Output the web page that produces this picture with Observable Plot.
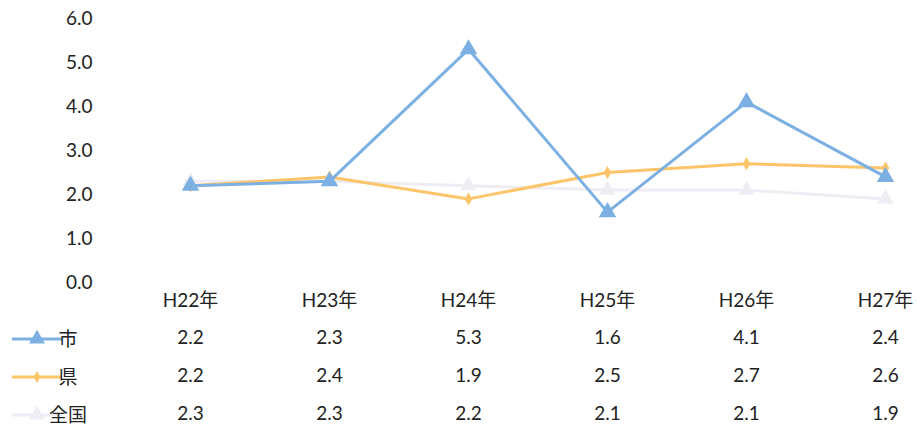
<!DOCTYPE html>
<html>
<head>
<meta charset="utf-8">
<script src="https://cdn.jsdelivr.net/npm/d3@7"></script>
<script src="https://cdn.jsdelivr.net/npm/@observablehq/plot@0.6"></script>
<style>
  html, body { margin: 0; padding: 0; background: #fff; }
  #chart { width: 917px; height: 427px; }
</style>
</head>
<body>
<div id="chart"></div>
<script>
const years = ["H22年", "H23年", "H24年", "H25年", "H26年", "H27年"];
const city = [2.2, 2.3, 5.3, 1.6, 4.1, 2.4];
const pref = [2.2, 2.4, 1.9, 2.5, 2.7, 2.6];
const nation = [2.3, 2.3, 2.2, 2.1, 2.1, 1.9];
const seriesNames = ["市", "県", "全国"];
const yTicks = [0, 1, 2, 3, 4, 5, 6];

const colors = {"市": "#7cb0e2", "県": "#fdc56a", "全国": "#f0ecf3"};
const seriesValues = {"市": city, "県": pref, "全国": nation};

const rows = years.map((y, i) => ({year: y, "市": city[i], "県": pref[i], "全国": nation[i]}));
const long = seriesNames.flatMap(s => years.map((y, i) => ({series: s, year: y, value: seriesValues[s][i]})));
const fmt = d3.format(".1f");
const FONT = "Lato, 'Noto Sans CJK JP', sans-serif";
const rowDy = {"市": 57, "県": 95, "全国": 133};
const TEXT = "#222";

const plot = Plot.plot({
  width: 917,
  height: 427,
  marginTop: 18,
  marginBottom: 145,
  marginLeft: 100,
  marginRight: 30,
  style: {fontFamily: FONT, fontSize: "19px", color: TEXT, background: "#fff"},
  x: {type: "point", domain: years, range: [188, 886], padding: 0, axis: null},
  y: {domain: [0, 6], range: [282, 18]},
  marks: [
    Plot.axisY({ticks: yTicks, tickSize: 0, tickPadding: 8, tickFormat: fmt, label: null, fontSize: 19, fill: TEXT}),
    // 全国
    Plot.line(long.filter(d => d.series === "全国"), {x: "year", y: "value", stroke: colors["全国"], strokeWidth: 3}),
    Plot.dot(long.filter(d => d.series === "全国"), {x: "year", y: "value", symbol: "triangle", r: 6, fill: colors["全国"]}),
    // 県
    Plot.line(long.filter(d => d.series === "県"), {x: "year", y: "value", stroke: colors["県"], strokeWidth: 3}),
    Plot.dot(long.filter(d => d.series === "県"), {x: "year", y: "value", symbol: "diamond", r: 4, fill: colors["県"]}),
    // 市
    Plot.line(long.filter(d => d.series === "市"), {x: "year", y: "value", stroke: colors["市"], strokeWidth: 3}),
    Plot.dot(long.filter(d => d.series === "市"), {x: "year", y: "value", symbol: "triangle", r: 6.5, fill: colors["市"]}),
    // table header
    Plot.text(years, {x: d => d, frameAnchor: "bottom", dy: 24, text: d => d, fontSize: 19, fill: TEXT}),
    // table values
    ...seriesNames.map(s => Plot.text(rows, {x: "year", frameAnchor: "bottom", dy: rowDy[s] + 4, text: d => fmt(d[s]), fontSize: 19, fill: TEXT}))
  ]
});
document.getElementById("chart").appendChild(plot);

// legend keys beside the data table
const svg = d3.select(plot);
const g = svg.append("g");
seriesNames.forEach(s => {
  const cy = 282 + rowDy[s];
  g.append("line").attr("x1", 12).attr("x2", 62).attr("y1", cy).attr("y2", cy)
    .attr("stroke", colors[s]).attr("stroke-width", 3);
  if (s === "県") {
    g.append("path").attr("d", d3.symbol(d3.symbolDiamond, 40)()).attr("transform", `translate(37,${cy})`).attr("fill", colors[s]);
  } else {
    g.append("path").attr("d", d3.symbol(d3.symbolTriangle, 110)()).attr("transform", `translate(37,${cy})`).attr("fill", colors[s]);
  }
  g.append("text").attr("x", 68).attr("y", cy).attr("dy", "0.35em")
    .attr("font-family", FONT).attr("font-size", 19).attr("fill", TEXT).text(s);
});
</script>
</body>
</html>
